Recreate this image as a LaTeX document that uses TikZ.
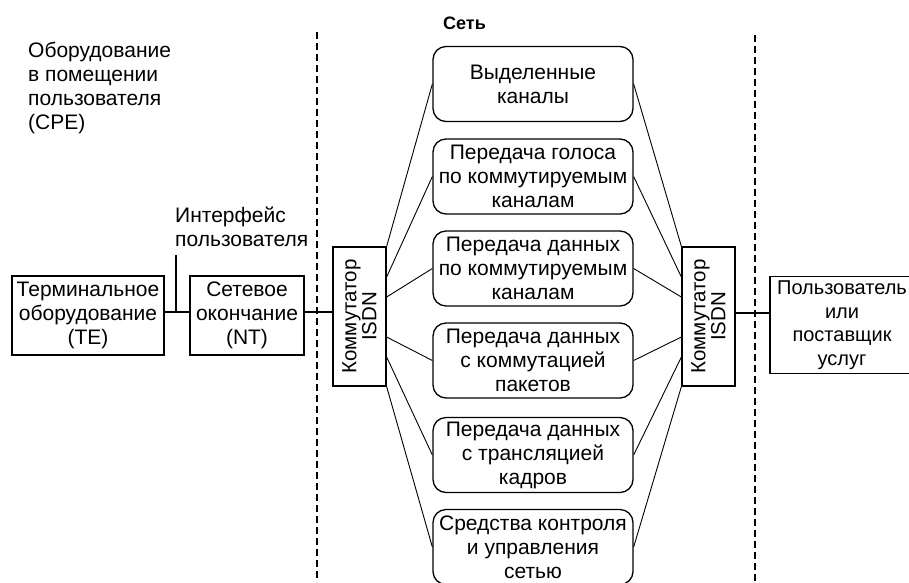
\documentclass[tikz,border=0pt]{standalone}
\usepackage{fontspec}
\setmainfont{Liberation Sans}
\usetikzlibrary{calc}
\begin{document}
\begin{tikzpicture}[x=1pt,y=-1pt,
  every node/.style={font=\fontsize{21}{24}\selectfont, inner sep=0pt},
  box/.style={draw, line width=1.3pt, align=center},
  svc/.style={box, rounded corners=13pt, minimum width=200pt, minimum height=75pt},
  sw/.style={box, minimum width=53pt, minimum height=139pt},
  swtext/.style={rotate=90, align=center, font=\fontsize{20.5}{20}\selectfont},
  fan/.style={line width=0.9pt},
  link/.style={line width=1.3pt},
  sep/.style={line width=1.2pt, dash pattern=on 7pt off 4pt},
  lbl/.style={align=left, anchor=west}]
\useasboundingbox (0,0) rectangle (909,582);

% separators
\draw[sep] (317,32) -- (317,582);
\draw[sep] (755,35) -- (755,582);

% labels
\node[lbl] (cpe) at (28,88) {Оборудование\\в помещении\\пользователя\\(CPE)};
\node[lbl] (ui) at (175,227) {Интерфейс\\пользователя};
\node[anchor=west, font=\bfseries\fontsize{18}{20}\selectfont] (net) at (443,23) {Сеть};

% customer side
\node[box, minimum width=152pt, minimum height=79pt] (te) at (88,315.5) {Терминальное\\оборудование\\(TE)};
\node[box, minimum width=114pt, minimum height=79pt] (nt) at (247,315.5) {Сетевое\\окончание\\(NT)};

% switches
\node[sw] (swL) at (359.5,316.5) {};
\node[swtext] (swLt) at (swL.center) {Коммутатор\\ISDN};
\node[sw] (swR) at (708.5,316.5) {};
\node[swtext] (swRt) at (swR.center) {Коммутатор\\ISDN};

% services
\node[svc] (b1) at (533,84) {Выделенные\\каналы};
\node[svc] (b2) at (533,176.5) {Передача голоса\\по коммутируемым\\каналам};
\node[svc] (b3) at (533,268.5) {Передача данных\\по коммутируемым\\каналам};
\node[svc] (b4) at (533,360.5) {Передача данных\\с коммутацией\\пакетов};
\node[svc] (b5) at (533,455) {Передача данных\\с трансляцией\\кадров};
\node[svc] (b6) at (533,547) {Средства контроля\\и управления\\сетью};

% user / provider
\node[box, minimum width=144pt, minimum height=97pt, font=\fontsize{20}{23.5}\selectfont] (usr) at (842,325) {Пользователь\\или\\поставщик\\услуг};

% connectors
\coordinate (j) at (176,312);
\coordinate (uitop) at (176,255);
\coordinate (k) at (750,313);
\draw[link] (uitop) -- (j);
\draw[link] (te.east |- j) -- (nt.west |- j);
\draw[link] (nt.east |- j) -- (swL.west |- j);
\draw[link] (swR.east |- k) -- (usr.west |- k);

% fan lines left
\draw[fan] (swL.north east) -- (b1.west);
\draw[fan] ($(swL.east)+(0,-39.5)$) -- (b2.west);
\draw[fan] ($(swL.east)+(0,-19.5)$) -- (b3.west);
\draw[fan] ($(swL.east)+(0,20.5)$) -- (b4.west);
\draw[fan] ($(swL.east)+(0,40.5)$) -- (b5.west);
\draw[fan] (swL.south east) -- (b6.west);

% fan lines right
\draw[fan] (swR.north west) -- (b1.east);
\draw[fan] ($(swR.west)+(0,-39.5)$) -- (b2.east);
\draw[fan] ($(swR.west)+(0,-19.5)$) -- (b3.east);
\draw[fan] ($(swR.west)+(0,20.5)$) -- (b4.east);
\draw[fan] ($(swR.west)+(0,40.5)$) -- (b5.east);
\draw[fan] (swR.south west) -- (b6.east);
\end{tikzpicture}
\end{document}
